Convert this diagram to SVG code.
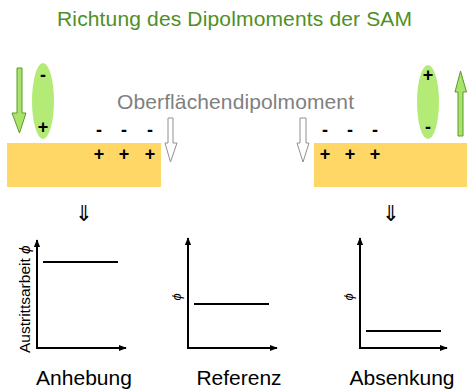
<svg xmlns="http://www.w3.org/2000/svg" width="467" height="392" viewBox="0 0 467 392">
<defs>
<style>
text{font-family:"Liberation Sans",Arial,sans-serif}
.title{font-size:21px;fill:#4f8f23}
.gray{font-size:21px;fill:#808080}
.sign{font-size:18px;fill:#000;font-weight:bold;text-anchor:middle}
.lbl{font-size:21px;fill:#000;text-anchor:middle}
.sub{fill:#fed766}
.dip{fill:#b3eb76}
.garrow{fill:#a9e36a;stroke:#5a9a2a;stroke-width:1}
.harrow{fill:#fff;stroke:#909090;stroke-width:1}
.axis{stroke:#000;stroke-width:2;fill:none}
.lvl{stroke:#000;stroke-width:2}
.phi{font-size:13px;fill:#000;font-style:italic}
.dbl{font-family:"DejaVu Sans",sans-serif;font-size:22px;fill:#000;text-anchor:middle}
</style>
<marker id="ah" viewBox="0 0 10 10" refX="9" refY="5" markerWidth="4" markerHeight="4" orient="auto-start-reverse">
<path d="M0,1 L10,5 L0,9 Z" fill="#000"/>
</marker>
</defs>
<rect width="467" height="392" fill="#fff"/>
<text class="title" x="57" y="26" textLength="355">Richtung des Dipolmoments der SAM</text>

<g id="left-scene">
<rect class="sub" x="7" y="143" width="154" height="44"/>
<path class="garrow" d="M17,68 H22 V113 H26 L19.5,133 L12,113 H17 Z"/>
<ellipse class="dip" cx="43" cy="101" rx="11" ry="38"/>
<text class="sign" x="43" y="81">-</text>
<text class="sign" x="43" y="133">+</text>
<text class="sign" x="99" y="136">-</text>
<text class="sign" x="124" y="136">-</text>
<text class="sign" x="150" y="136">-</text>
<text class="sign" x="99" y="160">+</text>
<text class="sign" x="124" y="160">+</text>
<text class="sign" x="150" y="160">+</text>
<path class="harrow" d="M168,118 H173 V143 H177 L170.5,162 L165,143 H168 Z"/>
</g>

<g id="right-scene">
<rect class="sub" x="314" y="143" width="153" height="44"/>
<path class="garrow" d="M458,136 V92 H455 L460.5,71 L466.5,92 H463 V136 Z"/>
<ellipse class="dip" cx="428" cy="102" rx="11" ry="37"/>
<text class="sign" x="428" y="81">+</text>
<text class="sign" x="428" y="133">-</text>
<text class="sign" x="325" y="136">-</text>
<text class="sign" x="350" y="136">-</text>
<text class="sign" x="375" y="136">-</text>
<text class="sign" x="325" y="160">+</text>
<text class="sign" x="350" y="160">+</text>
<text class="sign" x="375" y="160">+</text>
<path class="harrow" d="M300,118 H306 V143 H309 L303,162 L297,143 H300 Z"/>
</g>

<text class="gray" x="117" y="109" textLength="237">Oberflächendipolmoment</text>

<g id="graph-anhebung">
<text class="dbl" x="84" y="221">⇓</text>
<line class="lvl" x1="43" y1="262" x2="118" y2="262"/>
<text x="30" y="353" transform="rotate(-90 30 353)" style="font-size:15.5px;fill:#000">Austrittsarbeit <tspan font-style="italic">ϕ</tspan></text>
<text class="lbl" x="84" y="385">Anhebung</text>
</g>

<g id="graph-referenz">
<text class="phi" x="0" y="0" transform="translate(181 297) rotate(-90)" text-anchor="middle">ϕ</text>
<line class="lvl" x1="194" y1="304" x2="269" y2="304"/>
<text class="lbl" x="239" y="385">Referenz</text>
</g>

<g id="graph-absenkung">
<text class="dbl" x="391" y="221">⇓</text>
<text class="phi" x="0" y="0" transform="translate(353 297) rotate(-90)" text-anchor="middle">ϕ</text>
<line class="lvl" x1="366" y1="331" x2="441" y2="331"/>
<text class="lbl" x="402" y="385">Absenkung</text>
</g>

<g id="connectors">
<path class="axis" d="M37,240 V348 H126" marker-start="url(#ah)" marker-end="url(#ah)"/>
<path class="axis" d="M188,238 V348 H277" marker-start="url(#ah)" marker-end="url(#ah)"/>
<path class="axis" d="M360,238 V348 H447" marker-start="url(#ah)" marker-end="url(#ah)"/>
</g>
</svg>
